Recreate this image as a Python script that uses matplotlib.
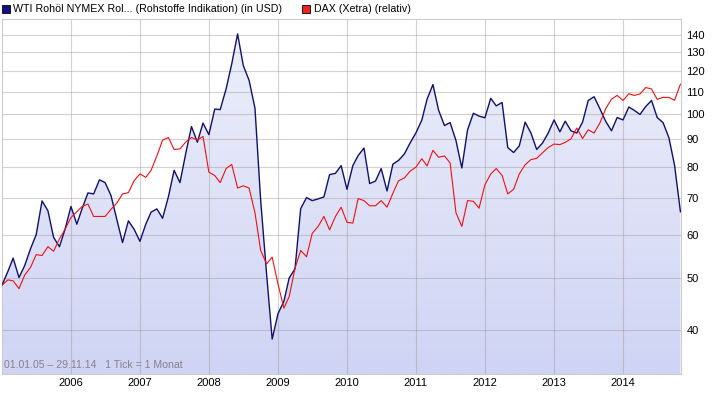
import numpy as np
import pandas as pd
import matplotlib
matplotlib.use("Agg")
import matplotlib.pyplot as plt
from matplotlib.patches import Rectangle
from matplotlib.colors import LinearSegmentedColormap

# Monatswerte 01/2005 - 11/2014
dates = pd.date_range("2005-01-01", periods=119, freq="MS")

wti = [
    48.4, 51.3, 54.3, 50.0, 52.6, 56.5, 60.0, 69.2, 66.4, 59.3, 57.0, 61.4,
    67.6, 62.7, 67.0, 71.6, 71.3, 75.7, 74.8, 70.8, 63.9, 58.0, 63.6, 61.4,
    58.3, 62.7, 66.0, 66.9, 64.3, 70.5, 78.8, 74.8, 84.8, 94.9, 88.8, 96.3,
    91.7, 102.2, 102.0, 111.3, 123.8, 140.6, 123.0, 115.4, 102.6, 69.5, 51.0, 38.5,
    42.9, 45.2, 49.9, 51.9, 67.0, 70.2, 69.3, 69.8, 70.4, 77.4, 77.8, 80.4,
    72.7, 80.4, 83.9, 86.6, 74.5, 75.3, 79.4, 72.2, 80.9, 82.2, 84.5, 88.5,
    92.4, 97.5, 106.6, 113.4, 101.7, 95.3, 96.5, 89.4, 79.6, 93.5, 100.4, 99.2,
    98.5, 107.0, 103.6, 105.1, 86.8, 85.0, 87.4, 96.7, 92.3, 86.1, 88.5, 92.3,
    97.6, 92.8, 97.1, 93.2, 92.3, 96.7, 106.0, 107.7, 102.3, 97.1, 93.2, 98.6,
    97.6, 103.1, 101.7, 99.9, 103.3, 106.0, 98.6, 96.5, 90.5, 80.5, 66.1,
]

dax = [
    48.4, 49.5, 49.3, 47.7, 50.5, 52.2, 55.1, 54.9, 57.0, 55.9, 58.9, 61.4,
    64.5, 66.1, 67.6, 68.3, 64.8, 64.8, 64.8, 66.8, 68.6, 71.3, 71.7, 75.4,
    77.6, 76.5, 78.8, 83.8, 89.6, 90.6, 86.1, 86.3, 88.9, 90.6, 89.6, 91.0,
    78.2, 77.1, 74.8, 79.4, 80.8, 73.1, 73.8, 73.1, 65.8, 56.1, 53.0, 54.5,
    48.6, 43.9, 46.1, 52.0, 56.1, 54.6, 60.3, 62.1, 64.8, 61.2, 64.8, 67.4,
    63.2, 63.0, 69.9, 69.3, 67.8, 67.8, 69.3, 67.4, 71.5, 75.4, 76.3, 78.5,
    79.9, 82.8, 80.3, 85.8, 83.3, 83.8, 81.3, 65.8, 62.1, 69.3, 69.1, 67.1,
    74.1, 77.6, 79.4, 77.1, 71.3, 72.7, 77.6, 80.7, 82.5, 82.9, 84.9, 86.8,
    88.1, 87.9, 88.7, 90.1, 94.3, 90.2, 93.6, 92.3, 96.4, 102.3, 106.6, 108.3,
    106.0, 109.1, 108.3, 109.0, 112.0, 111.3, 106.5, 107.4, 107.4, 106.1, 113.6,
]

y_ticks = [40, 50, 60, 70, 80, 90, 100, 110, 120, 130, 140]
years = list(range(2006, 2015))

label_wti = "WTI Rohöl NYMEX Rol... (Rohstoffe Indikation) (in USD)"
label_dax = "DAX (Xetra) (relativ)"
info_text = "01.01.05 \u2013 29.11.14   1 Tick = 1 Monat"

plt.rcParams["font.family"] = ["Liberation Sans", "DejaVu Sans"]

W, H = 712, 397
fig = plt.figure(figsize=(W / 100, H / 100), dpi=100)
ax = fig.add_axes([2 / W, 1 - 374 / H, (681 - 2) / W, (374 - 19) / H])
ax.set_yscale("log")

x0 = pd.Timestamp("2005-01-01")
x1 = pd.Timestamp("2014-11-04")

# Flaeche unter der Oelkurve mit Verlauf
poly = ax.fill_between(dates, wti, 1, color="none", lw=0)
cmap = LinearSegmentedColormap.from_list("fill", ["#cfd4f4", "#eef0fb"])
grad = np.linspace(0, 1, 256).reshape(-1, 1)
img = ax.imshow(grad, cmap=cmap, origin="lower", aspect="auto",
                extent=[0, 1, 0, 1], transform=ax.transAxes, zorder=1)
img.set_clip_path(poly.get_paths()[0], transform=ax.transData)
ax.set_xlim(x0, x1)
ax.set_ylim(33.2, 149.8)

ax.plot(dates, wti, color="#10106e", lw=1.0, zorder=3)
ax.plot(dates, dax, color="#f01010", lw=0.8, zorder=4)

# Gitter
for v in y_ticks:
    ax.axhline(v, color="#a09090", alpha=0.42, lw=0.8, zorder=2)
for yr in years:
    ax.axvline(pd.Timestamp(f"{yr}-01-01"), color="#a09090", alpha=0.42, lw=0.8, zorder=2)

ax.yaxis.tick_right()
ax.set_yticks(y_ticks)
ax.set_yticklabels([str(v) for v in y_ticks])
ax.yaxis.set_minor_locator(matplotlib.ticker.NullLocator())
ax.set_xticks([pd.Timestamp(f"{yr}-01-01") for yr in years])
ax.set_xticklabels([str(yr) for yr in years])
ax.tick_params(axis="both", length=0, labelsize=8, colors="#000000")
ax.tick_params(axis="y", pad=4)
ax.tick_params(axis="x", pad=3)

for s in ax.spines.values():
    s.set_color("#cccccc")
    s.set_linewidth(0.8)

ax.text(0.003, 0.012, info_text, transform=ax.transAxes, fontsize=7.6,
        color="#8a7f8c", ha="left", va="bottom", zorder=5)

# Legende oben
fig.patches.append(Rectangle((2 / W, 1 - 13 / H), 8 / W, 8 / H, transform=fig.transFigure,
                             facecolor="#10108a", edgecolor="#000000", lw=0.6))
fig.text(13 / W, 1 - 9 / H, label_wti, fontsize=7.7, va="center", ha="left")
fig.patches.append(Rectangle((302 / W, 1 - 13 / H), 8 / W, 8 / H, transform=fig.transFigure,
                             facecolor="#ee2020", edgecolor="#000000", lw=0.6))
fig.text(314 / W, 1 - 9 / H, label_dax, fontsize=7.7, va="center", ha="left")

fig.savefig("out.png", dpi=100)
